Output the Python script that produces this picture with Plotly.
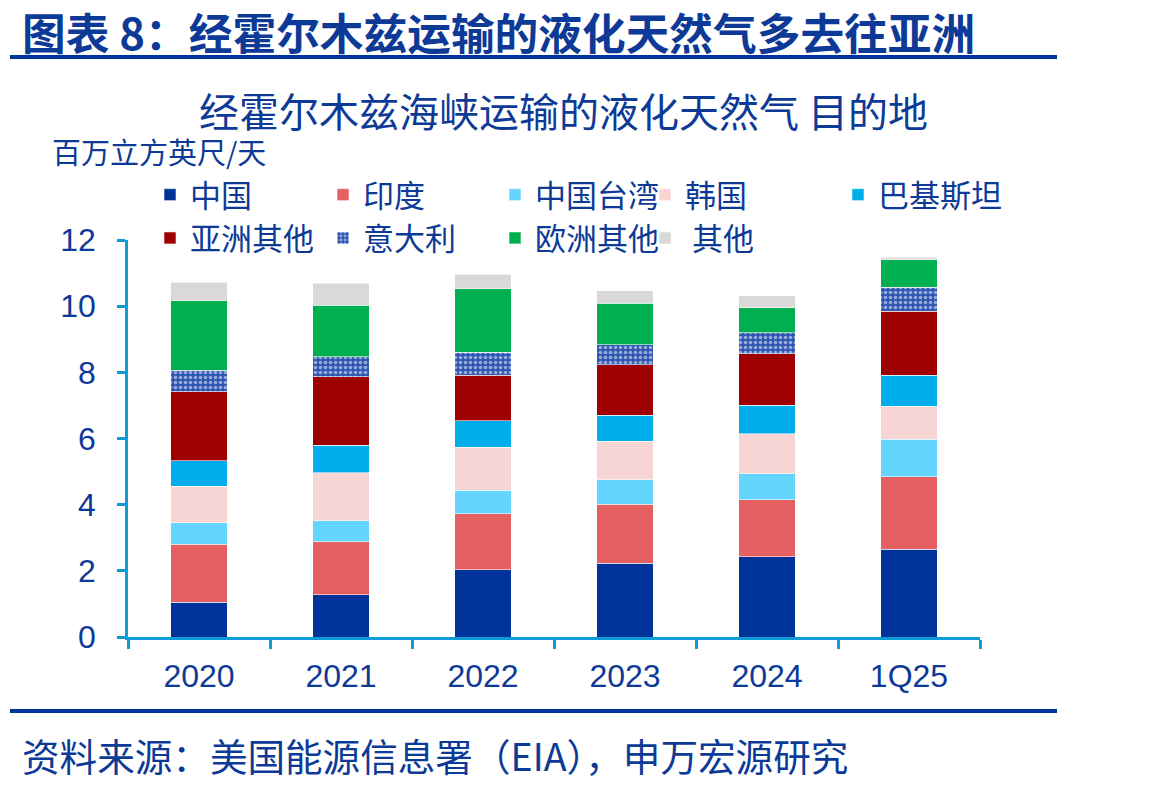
import plotly.graph_objects as go

categories = ["2020", "2021", "2022", "2023", "2024", "1Q25"]

series_names = ["中国", "印度", "中国台湾", "韩国", "巴基斯坦", "亚洲其他", "意大利", "欧洲其他", " 其他"]

china       = [1.05, 1.27, 2.03, 2.23, 2.42, 2.65]
india       = [1.75, 1.61, 1.70, 1.79, 1.73, 2.20]
taiwan      = [0.66, 0.63, 0.71, 0.73, 0.78, 1.13]
korea       = [1.10, 1.46, 1.29, 1.17, 1.22, 1.00]
pakistan    = [0.77, 0.82, 0.80, 0.79, 0.86, 0.93]
asia_other  = [2.09, 2.07, 1.38, 1.52, 1.55, 1.93]
italy       = [0.64, 0.61, 0.69, 0.60, 0.64, 0.73]
europe_other = [2.11, 1.56, 1.93, 1.26, 0.75, 0.83]
other       = [0.55, 0.66, 0.44, 0.37, 0.37, 0.08]

series_values = [china, india, taiwan, korea, pakistan, asia_other, italy, europe_other, other]
colors = ["#003399", "#E56161", "#63D5FE", "#F8D5D5", "#00AEEB", "#9E0000", "#3A5FB8", "#00B050", "#D9D9D9"]
legend_ids = ["legend", "legend2", "legend3", "legend4", "legend5", "legend", "legend2", "legend3", "legend4"]

TXT = "#0D3A96"
AX = "#0E9BD8"
FONT = "Noto Sans CJK SC"
W, H = 1163, 787

def px(x):
    return x / W

def py(y):
    return 1 - y / H

fig = go.Figure()
for name, vals, col, lg in zip(series_names, series_values, colors, legend_ids):
    marker = dict(color=col, line=dict(color="rgba(255,255,255,0.7)", width=0.8))
    if name == "意大利":
        marker["pattern"] = dict(shape=".", fgcolor="#FFFFFF", bgcolor="#2E56B2", size=5, solidity=0.4)
    fig.add_trace(go.Bar(x=categories, y=vals, name=name, marker=marker, legend=lg))

legend_x = [150, 323, 495, 645, 838]
legend_common = dict(
    orientation="v", font=dict(family=FONT, size=31, color=TXT),
    bgcolor="rgba(0,0,0,0)", xanchor="left", yanchor="top", y=py(168),
    tracegroupgap=0, traceorder="normal", itemclick=False, itemdoubleclick=False,
)

fig.update_layout(
    width=W, height=H, autosize=False,
    margin=dict(l=0, r=0, t=0, b=0, pad=0, autoexpand=False),
    paper_bgcolor="white", plot_bgcolor="white",
    barmode="stack", bargap=0.6,
    showlegend=True,
    legend=dict(x=px(legend_x[0]), **legend_common),
    legend2=dict(x=px(legend_x[1]), **legend_common),
    legend3=dict(x=px(legend_x[2]), **legend_common),
    legend4=dict(x=px(legend_x[3]), **legend_common),
    legend5=dict(x=px(legend_x[4]), **legend_common),
    xaxis=dict(
        domain=[px(128), px(980)], type="category", automargin=False,
        showline=True, linecolor=AX, linewidth=2.5,
        ticks="outside", ticklen=9, tickwidth=2.5, tickcolor=AX, tickson="boundaries",
        ticklabelstandoff=9,
        tickfont=dict(family="Liberation Sans, Arial", size=32, color=TXT),
        showgrid=False, zeroline=False, fixedrange=True,
    ),
    yaxis=dict(
        domain=[py(637), py(240)], range=[0, 12], dtick=2, automargin=False,
        showline=True, linecolor=AX, linewidth=2.5,
        ticks="outside", ticklen=8, tickwidth=2.5, tickcolor=AX,
        ticklabelstandoff=15,
        tickfont=dict(family="Liberation Sans, Arial", size=32, color=TXT),
        showgrid=False, zeroline=False, fixedrange=True,
    ),
    font=dict(family=FONT, color=TXT),
)

annotations = [
    dict(text="<b>图表 8：经霍尔木兹运输的液化天然气多去往亚洲</b>", x=px(20), y=py(31),
         xanchor="left", yanchor="middle", font=dict(family=FONT, size=43.7, color=TXT)),
    dict(text="经霍尔木兹海峡运输的液化天然气 目的地", x=px(563), y=py(110),
         xanchor="center", yanchor="middle", font=dict(family=FONT, size=40, color=TXT)),
    dict(text="百万立方英尺/天", x=px(50), y=py(151),
         xanchor="left", yanchor="middle", font=dict(family=FONT, size=29, color=TXT)),
    dict(text="资料来源：美国能源信息署（EIA），申万宏源研究", x=px(20), y=py(754),
         xanchor="left", yanchor="middle", font=dict(family=FONT, size=37.6, color=TXT)),
]
for a in annotations:
    a.update(xref="paper", yref="paper", showarrow=False)
fig.update_layout(annotations=annotations)

shapes = [
    dict(type="line", x0=px(10), x1=px(1057), y0=py(57), y1=py(57), line=dict(color="#003399", width=4)),
    dict(type="line", x0=px(10), x1=px(1057), y0=py(711), y1=py(711), line=dict(color="#003399", width=4)),
]
for s in shapes:
    s.update(xref="paper", yref="paper")
fig.update_layout(shapes=shapes)

fig.write_html("out.html")
